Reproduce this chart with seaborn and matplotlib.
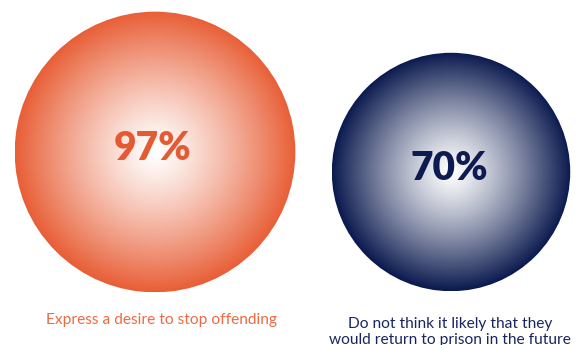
import numpy as np
import matplotlib
matplotlib.use("Agg")
import matplotlib.pyplot as plt
from matplotlib.patches import Circle
from matplotlib.colors import LinearSegmentedColormap
import seaborn as sns

# Survey results shown as circles whose area scales with the share
values = [97, 70]
value_labels = ["97%", "70%"]
captions = ["Express a desire to stop offending",
            "Do not think it likely that they\nwould return to prison in the future"]
edge_colors = ["#E85F37", "#0B1A4F"]
text_colors = ["#E45A33", "#0E1B50"]
caption_colors = ["#EE6A45", "#1A2560"]

sns.set_theme(style="white")
plt.rcParams["font.family"] = ["Lato", "DejaVu Sans"]

W, H = 577, 345
fig = plt.figure(figsize=(W / 100, H / 100), dpi=100)
ax = fig.add_axes([0, 0, 1, 1])
ax.set_xlim(0, W)
ax.set_ylim(H, 0)
ax.set_aspect("equal")
ax.axis("off")

centers = [(155, 152), (451, 172)]
scale = 14.25  # radius per sqrt(percent)
caption_pos = [(162, 324), (450, 344)]

for v, lab, cap, ec, tc, cc, (cx, cy), (tx, ty) in zip(
        values, value_labels, captions, edge_colors, text_colors,
        caption_colors, centers, caption_pos):
    r = scale * np.sqrt(v)
    cmap = LinearSegmentedColormap.from_list(
        "grad", sns.blend_palette(["#FFFFFF", ec], n_colors=256))
    n = 400
    gx = np.linspace(-1, 1, n)
    xx, yy = np.meshgrid(gx, gx)
    rr = np.clip(np.sqrt(xx ** 2 + yy ** 2), 0, 1) ** 1.2
    im = ax.imshow(rr, cmap=cmap, vmin=0, vmax=1,
                   extent=(cx - r, cx + r, cy + r, cy - r),
                   interpolation="bilinear", zorder=1)
    clip = Circle((cx, cy), r, transform=ax.transData, facecolor="none",
                  edgecolor="none")
    ax.add_patch(clip)
    im.set_clip_path(clip)
    ax.text(cx - 2, cy - 3, lab, ha="center", va="center", fontsize=28,
            fontweight="heavy", color=tc, zorder=3)
    ax.text(tx, ty, cap, ha="center", va="baseline", fontsize=11.2,
            color=cc, linespacing=1.2, zorder=3,
            multialignment="center")

ax.set_xlim(0, W)
ax.set_ylim(H, 0)
fig.savefig("out.png", dpi=100)
